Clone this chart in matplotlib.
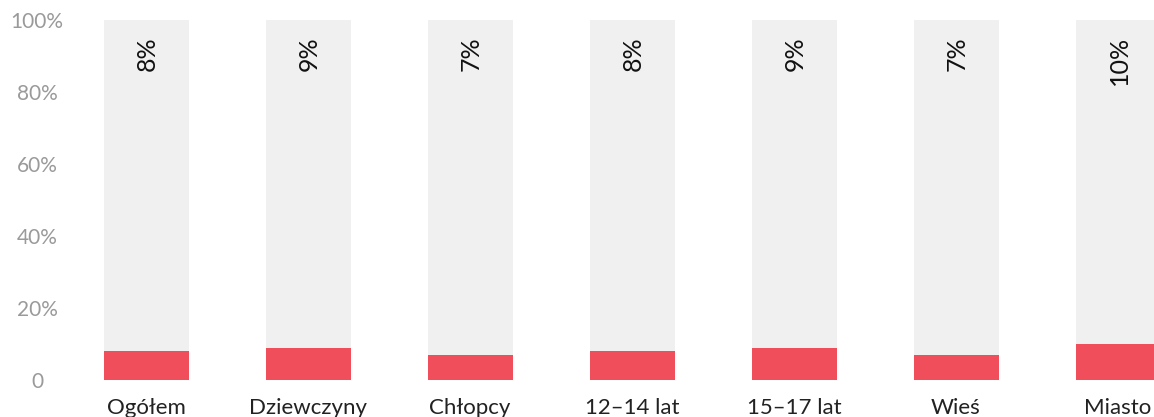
import matplotlib
matplotlib.use("Agg")
import matplotlib.pyplot as plt

categories = ["Ogółem", "Dziewczyny", "Chłopcy", "12–14 lat", "15–17 lat", "Wieś", "Miasto"]
values = [8, 9, 7, 8, 9, 7, 10]
value_labels = ["8%", "9%", "7%", "8%", "9%", "7%", "10%"]
yticks = [0, 20, 40, 60, 80, 100]
ytick_labels = ["0", "20%", "40%", "60%", "80%", "100%"]

plt.rcParams['font.family'] = ['Lato', 'DejaVu Sans']

W, H = 1154, 417
fig = plt.figure(figsize=(W / 100, H / 100), dpi=100)
left_px, right_px, top_px, bottom_px = 75, 1154, 20, 380
ax = fig.add_axes([left_px / W, (H - bottom_px) / H, (right_px - left_px) / W, (bottom_px - top_px) / H])

x = list(range(len(categories)))
spacing = 162.0
ax.set_xlim(-(146 - left_px) / spacing, 6 + (right_px - 1118) / spacing)
ax.set_ylim(0, 100)

bw = 85 / spacing
ax.bar(x, [100] * len(x), width=bw, color="#f0f0f0", zorder=1)
ax.bar(x, values, width=bw, color="#f04e5a", zorder=2)

for xi, lab in zip(x, value_labels):
    ax.text(xi + 0.01, 95.5, lab, rotation=90, ha="center", va="top", fontsize=18, color="#111111", zorder=3)

ax.set_yticks(yticks)
ax.set_yticklabels(ytick_labels, color="#9a9a9a", fontsize=15)
for t in ax.get_yticklabels():
    t.set_ha("center")
ax.tick_params(axis="y", length=0, pad=(left_px - 37) * 0.72)

ax.set_xticks(x)
ax.set_xticklabels(categories, fontsize=16, color="#222222")
ax.tick_params(axis="x", length=0, pad=13)

for s in ax.spines.values():
    s.set_visible(False)

fig.savefig("out.png", dpi=100)
